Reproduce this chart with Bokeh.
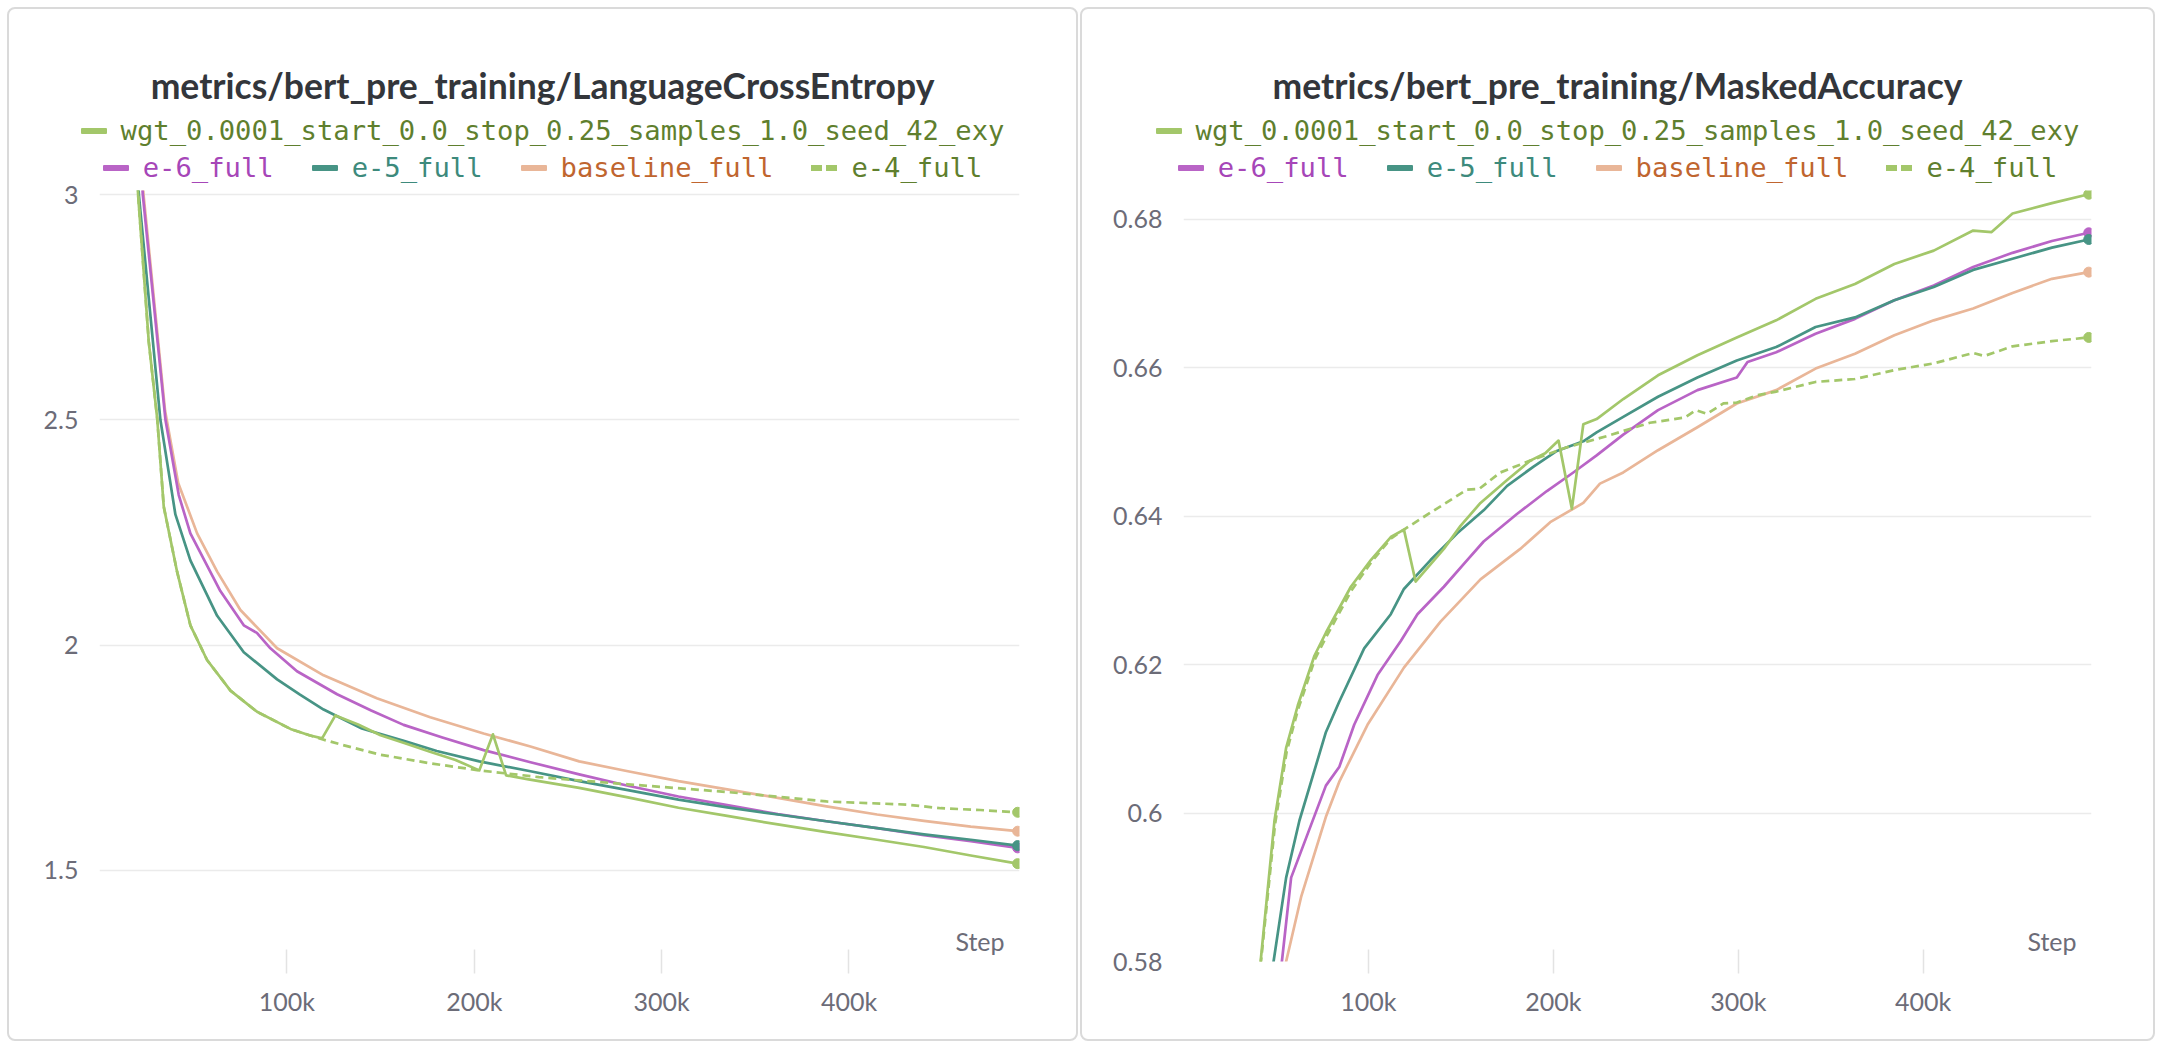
from bokeh.plotting import figure
from bokeh.layouts import row, column
from bokeh.models import Range1d, FixedTicker, CustomJSTickFormatter, Label, Div
from bokeh.embed import file_html
from bokeh.resources import INLINE

# ---------------- data (steps in thousands) ----------------
series_names = ["wgt_0.0001_start_0.0_stop_0.25_samples_1.0_seed_42_exy",
                "e-6_full", "e-5_full", "baseline_full", "e-4_full"]

# LanguageCrossEntropy
ce_wgt_steps = [16, 20.6, 26.3, 30.8, 34.3, 41.4, 48.5, 57.4, 69.9, 84.1, 101.9, 112, 118.8,
                125.9, 138, 150, 163, 176, 190, 202.7, 210, 217, 229, 256, 282, 309, 335,
                362, 388, 415, 440, 465, 490]
ce_wgt_vals = [3.40, 3.00, 2.673, 2.503, 2.307, 2.163, 2.044, 1.967, 1.899, 1.852, 1.814, 1.800,
               1.793, 1.844, 1.824, 1.800, 1.782, 1.764, 1.745, 1.722, 1.802, 1.711, 1.702,
               1.683, 1.662, 1.639, 1.621, 1.602, 1.585, 1.568, 1.552, 1.533, 1.515]

ce_e6_steps = [18, 23.1, 35.2, 42.3, 48.5, 64.5, 77, 84, 91.2, 105.4, 126.8, 145, 162.3, 183,
               205, 230, 256, 282, 309, 335, 362, 388, 415, 440, 465, 490]
ce_e6_vals = [3.35, 3.00, 2.50, 2.333, 2.248, 2.12, 2.044, 2.027, 1.993, 1.942, 1.891, 1.855,
              1.823, 1.795, 1.767, 1.740, 1.713, 1.688, 1.664, 1.645, 1.625, 1.609, 1.594,
              1.578, 1.565, 1.550]

ce_e5_steps = [16, 21, 32.5, 40.5, 48.5, 62.8, 77, 94.8, 107, 119.6, 140, 162.8, 180, 202.7,
               230, 256, 282, 309, 335, 362, 388, 415, 440, 465, 490]
ce_e5_vals = [3.40, 3.00, 2.50, 2.290, 2.188, 2.065, 1.984, 1.924, 1.890, 1.857, 1.815, 1.787,
              1.765, 1.742, 1.720, 1.698, 1.678, 1.657, 1.640, 1.624, 1.609, 1.594, 1.580,
              1.568, 1.555]

ce_base_steps = [18, 23.5, 35, 42, 52.1, 62.8, 75.2, 94.8, 119.6, 148, 176.5, 205, 230, 256,
                 282, 309, 335, 362, 388, 415, 440, 465, 490]
ce_base_vals = [3.35, 3.00, 2.52, 2.36, 2.248, 2.163, 2.078, 1.993, 1.933, 1.882, 1.840, 1.804,
                1.775, 1.742, 1.720, 1.698, 1.680, 1.661, 1.642, 1.624, 1.610, 1.597, 1.587]

ce_e4_steps = [16, 20.6, 26.3, 30.8, 34.3, 41.4, 48.5, 57.4, 69.9, 84.1, 101.9, 112, 118.8,
               130, 149.6, 176, 202.7, 234.5, 282, 335, 388, 431, 449, 470, 490]
ce_e4_vals = [3.40, 3.00, 2.673, 2.503, 2.307, 2.163, 2.044, 1.967, 1.899, 1.852, 1.814, 1.800,
              1.791, 1.778, 1.757, 1.738, 1.722, 1.707, 1.691, 1.674, 1.653, 1.646, 1.638,
              1.634, 1.629]

# MaskedAccuracy
ma_wgt_steps = [35, 41.7, 49.2, 55.5, 61.8, 70.8, 77, 90.5, 101.3, 112.1, 119.2, 125.5, 140.8,
                149.8, 160.6, 175, 187.5, 195.6, 202.8, 210, 216.2, 223.4, 237.8, 256.6,
                277.9, 299.2, 320.5, 341.8, 363.1, 384.4, 405.7, 427, 437, 448.3, 469.6, 489.5]
ma_wgt_vals = [0.555, 0.580, 0.599, 0.6088, 0.6145, 0.6212, 0.6243, 0.6305, 0.6341, 0.6372,
               0.6382, 0.6312, 0.6356, 0.6387, 0.6418, 0.6449, 0.6475, 0.6485, 0.6502, 0.6410,
               0.6524, 0.6531, 0.6558, 0.6590, 0.6617, 0.6641, 0.6664, 0.6693, 0.6713, 0.6740,
               0.6758, 0.6785, 0.6783, 0.6808, 0.6822, 0.6834]

ma_e6_steps = [45, 53.2, 58.2, 77, 84.2, 92.3, 104.9, 117.5, 126.5, 140.8, 153.4, 162.3, 180.3,
               196.5, 210.8, 223.4, 237.8, 256.6, 277.9, 299.2, 305, 320.5, 341.8, 363.1,
               384.4, 405.7, 427, 448.3, 469.6, 489.5]
ma_e6_vals = [0.560, 0.580, 0.5913, 0.6037, 0.6062, 0.6119, 0.6186, 0.6232, 0.6268, 0.6305,
              0.6341, 0.6366, 0.6403, 0.6434, 0.6459, 0.6482, 0.6510, 0.6543, 0.6570, 0.6587,
              0.6608, 0.6621, 0.6646, 0.6666, 0.6691, 0.6711, 0.6736, 0.6755, 0.6771, 0.6782]

ma_e5_steps = [40, 48.7, 55.5, 62.7, 77, 84.2, 97.7, 112.1, 119.2, 133.6, 148, 162.3, 175,
               189.3, 201.9, 216.2, 223.4, 237.8, 256.6, 277.9, 299.2, 320.5, 341.8, 363.1,
               384.4, 405.7, 427, 448.3, 469.6, 489.5]
ma_e5_vals = [0.555, 0.580, 0.5913, 0.599, 0.6109, 0.615, 0.6222, 0.6268, 0.6302, 0.6341,
              0.6377, 0.6408, 0.6441, 0.6467, 0.6488, 0.6501, 0.6513, 0.6534, 0.6561, 0.6587,
              0.6610, 0.6628, 0.6655, 0.6668, 0.6691, 0.6709, 0.6732, 0.6747, 0.6762, 0.6773]

ma_base_steps = [48, 55.5, 63.6, 77, 84.2, 99.5, 119.2, 139, 160.6, 182.1, 198.3, 216.2, 225.2,
                 237.8, 256.6, 277.9, 299.2, 320.5, 341.8, 363.1, 384.4, 405.7, 427, 448.3,
                 469.6, 489.5]
ma_base_vals = [0.560, 0.580, 0.5887, 0.5995, 0.6042, 0.6119, 0.6196, 0.6258, 0.6315, 0.6356,
                0.6392, 0.6418, 0.6444, 0.6459, 0.6489, 0.6520, 0.6552, 0.6570, 0.6599, 0.6619,
                0.6644, 0.6664, 0.6680, 0.6701, 0.6720, 0.6729]

ma_e4_steps = [35, 41.9, 49.5, 55.8, 62, 71, 77.3, 90.8, 101.5, 112.1, 119.2, 133.6, 153.4, 160,
               171.3, 187.5, 207.3, 228.8, 252.2, 271, 277, 283, 292, 299, 310, 320.5, 341.8,
               363.1, 384.4, 405.7, 427, 433, 448.3, 469.6, 489.5]
ma_e4_vals = [0.555, 0.580, 0.5985, 0.6083, 0.614, 0.6207, 0.6238, 0.6300, 0.6338, 0.6370,
              0.6382, 0.6405, 0.6436, 0.6437, 0.6459, 0.6475, 0.6493, 0.6508, 0.6526, 0.6533,
              0.6543, 0.6538, 0.6552, 0.6553, 0.6563, 0.6568, 0.6581, 0.6585, 0.6597, 0.6606,
              0.6620, 0.6616, 0.6629, 0.6636, 0.6641]

x_ticks = [100000, 200000, 300000, 400000]
x_tick_labels = ["100k", "200k", "300k", "400k"]
ce_y_ticks = [1.5, 2, 2.5, 3]
ce_y_tick_labels = ["1.5", "2", "2.5", "3"]
ma_y_ticks = [0.58, 0.6, 0.62, 0.64, 0.66, 0.68]
ma_y_tick_labels = ["0.58", "0.6", "0.62", "0.64", "0.66", "0.68"]

# ---------------- style ----------------
LINE_COLORS = ["#a3c76a", "#b964c6", "#479485", "#e9b698", "#a3c76a"]
TEXT_COLORS = ["#5f7f2e", "#a646b8", "#3d8a7c", "#c0652f", "#5f7f2e"]
TICK_FONT = "Lato"
TICK_COLOR = "#6c6c78"
MONO = "DejaVu Sans Mono"

HEADER_H = 170
FIG_H = 860
FRAME_TOP = 11       # figure-relative
FRAME_BOTTOM = 782   # figure-relative


def fmt(tick_values, tick_labels):
    return CustomJSTickFormatter(args=dict(tvals=tick_values, tlabs=tick_labels), code="""
        for (let i = 0; i < tvals.length; i++) {
            if (Math.abs(tvals[i] - tick) < 1e-9 * Math.max(1, Math.abs(tick))) return tlabs[i];
        }
        return '';
    """)


def legend_item(i, first):
    c = LINE_COLORS[i]
    if i == 4:
        marker = ('<span style="display:inline-flex;align-items:center;width:26px;height:6px;'
                  'margin-right:14px;gap:4px;">'
                  f'<span style="display:block;width:11px;height:6px;background:{c};"></span>'
                  f'<span style="display:block;width:11px;height:6px;background:{c};"></span></span>')
    else:
        marker = (f'<span style="display:block;width:26px;height:6px;border-radius:1px;'
                  f'background:{c};margin-right:14px;"></span>')
    ml = "0" if first else "38px"
    return (f'<span style="display:inline-flex;align-items:center;margin-left:{ml};">{marker}'
            f'<span style="color:{TEXT_COLORS[i]};">{series_names[i]}</span></span>')


def header(title, width):
    row_style = ("position:absolute;left:0;width:%dpx;height:32px;display:flex;"
                 "justify-content:center;align-items:center;white-space:nowrap;"
                 "font-family:'%s';font-size:27.2px;" % (width, MONO))
    html = (f'<div style="position:relative;width:{width}px;height:{HEADER_H}px;">'
            f'<div style="position:absolute;left:0;top:55px;width:{width}px;height:44px;line-height:44px;'
            f"text-align:center;font-family:'Lato';font-weight:bold;font-size:35.5px;color:#33363b;"
            f'white-space:nowrap;">{title}</div>'
            f'<div style="{row_style}top:106px;">{legend_item(0, True)}</div>'
            f'<div style="{row_style}top:143px;">'
            f'{legend_item(1, True)}{legend_item(2, False)}{legend_item(3, False)}{legend_item(4, False)}'
            f'</div></div>')
    return Div(text=html, width=width, height=HEADER_H, margin=0)


def make_panel(title, width, frame_left, frame_right, y_range, yticks, ylabels, data):
    p = figure(width=width, height=FIG_H, x_range=Range1d(0, 491000), y_range=Range1d(*y_range),
               output_backend="svg", toolbar_location=None,
               min_border_left=frame_left, min_border_right=width - frame_right,
               min_border_top=FRAME_TOP, min_border_bottom=FIG_H - FRAME_BOTTOM)
    p.margin = 0
    p.outline_line_color = None
    p.background_fill_color = "white"
    p.border_fill_alpha = 0
    p.xgrid.grid_line_color = None
    p.ygrid.grid_line_color = "#ebebeb"
    p.ygrid.grid_line_width = 1.5
    p.ygrid.ticker = FixedTicker(ticks=yticks)

    p.xaxis.ticker = FixedTicker(ticks=x_ticks)
    p.xaxis.formatter = fmt(x_ticks, x_tick_labels)
    p.xaxis.axis_line_color = None
    p.xaxis.major_tick_line_color = "#e3e3e3"
    p.xaxis.major_tick_line_width = 1.5
    p.xaxis.major_tick_in = 12
    p.xaxis.major_tick_out = 12
    p.xaxis.minor_tick_line_color = None
    p.xaxis.major_label_standoff = 12

    p.yaxis.ticker = FixedTicker(ticks=yticks)
    p.yaxis.formatter = fmt(yticks, ylabels)
    p.yaxis.axis_line_color = None
    p.yaxis.major_tick_line_color = None
    p.yaxis.minor_tick_line_color = None
    p.yaxis.major_label_standoff = 15
    for ax in (p.xaxis, p.yaxis):
        ax.major_label_text_font = TICK_FONT
        ax.major_label_text_font_size = "25px"
        ax.major_label_text_color = TICK_COLOR

    # draw series: baseline, e-6, e-5, e-4, wgt (wgt on top)
    for i in [3, 1, 2, 4, 0]:
        steps, vals = data[i]
        xs = [s * 1000 for s in steps]
        dash = "8 5" if i == 4 else "solid"
        p.line(xs, vals, line_color=LINE_COLORS[i], line_width=2.7, line_dash=dash,
               line_join="round")
        p.scatter([xs[-1]], [vals[-1]], size=10, color=LINE_COLORS[i])

    p.add_layout(Label(x=frame_right - frame_left - 15, y=21, x_units="screen", y_units="screen",
                       text="Step", text_align="right", text_baseline="middle",
                       text_font=TICK_FONT, text_font_size="25px", text_color=TICK_COLOR))

    panel = column(header(title, width), p, spacing=0,
                   styles={"border": "2px solid #dadada", "border-radius": "8px",
                           "background": "white"})
    return panel


ce_data = [(ce_wgt_steps, ce_wgt_vals), (ce_e6_steps, ce_e6_vals), (ce_e5_steps, ce_e5_vals),
           (ce_base_steps, ce_base_vals), (ce_e4_steps, ce_e4_vals)]
ma_data = [(ma_wgt_steps, ma_wgt_vals), (ma_e6_steps, ma_e6_vals), (ma_e5_steps, ma_e5_vals),
           (ma_base_steps, ma_base_vals), (ma_e4_steps, ma_e4_vals)]

left = make_panel("metrics/bert_pre_training/LanguageCrossEntropy", 1067, 90, 1010,
                  (1.2978, 3.009), ce_y_ticks, ce_y_tick_labels, ce_data)
right = make_panel("metrics/bert_pre_training/MaskedAccuracy", 1071, 101, 1009,
                   (0.58, 0.6839), ma_y_ticks, ma_y_tick_labels, ma_data)

layout = row(left, right, spacing=2, styles={"margin-left": "7px", "margin-top": "7px"})
open("out.html", "w").write(file_html(layout, INLINE))
